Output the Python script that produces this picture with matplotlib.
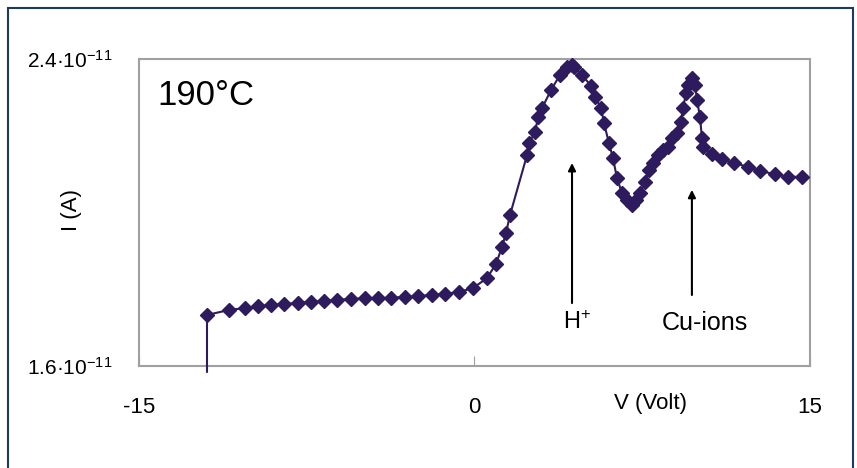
import numpy as np
import matplotlib.pyplot as plt
from matplotlib.patches import Rectangle

plt.rcParams['font.family'] = ['Liberation Sans', 'DejaVu Sans']
plt.rcParams['mathtext.fontset'] = 'custom'
plt.rcParams['mathtext.rm'] = 'Liberation Sans'
plt.rcParams['mathtext.it'] = 'Liberation Sans'

# V (Volt) and I (units of 1e-11 A)
volt = [-11.96, -11.96, -10.98, -10.26, -9.68, -9.10, -8.52, -7.89, -7.31, -6.73,
        -6.15, -5.52, -4.90, -4.31, -3.73, -3.11, -2.53, -1.90, -1.32, -0.69,
        -0.07, 0.56, 0.96, 1.23, 1.41, 1.59, 2.35, 2.44, 2.71, 2.84,
        3.02, 3.42, 3.82, 4.14, 4.36, 4.45, 4.81, 5.21, 5.39, 5.66,
        5.79, 6.01, 6.19, 6.37, 6.59, 6.82, 7.04, 7.22, 7.40, 7.62,
        7.80, 7.98, 8.20, 8.43, 8.65, 8.83, 9.05, 9.23, 9.32, 9.46,
        9.55, 9.72, 9.86, 9.95, 10.08, 10.17, 10.22, 10.62, 11.07, 11.60,
        12.23, 12.77, 13.44, 14.02, 14.64]
current = [1.585, 1.733, 1.746, 1.751, 1.756, 1.759, 1.762, 1.764, 1.767, 1.769,
           1.772, 1.775, 1.776, 1.777, 1.778, 1.780, 1.782, 1.785, 1.788, 1.793,
           1.803, 1.829, 1.866, 1.910, 1.947, 1.994, 2.150, 2.181, 2.210, 2.249,
           2.272, 2.319, 2.358, 2.379, 2.384, 2.379, 2.358, 2.330, 2.301, 2.272,
           2.233, 2.181, 2.142, 2.090, 2.051, 2.033, 2.020, 2.033, 2.051, 2.079,
           2.111, 2.129, 2.150, 2.163, 2.171, 2.194, 2.207, 2.236, 2.272, 2.311,
           2.332, 2.351, 2.332, 2.293, 2.249, 2.194, 2.171, 2.152, 2.139, 2.129,
           2.119, 2.108, 2.100, 2.093, 2.093]

x_ticks = [-15, 0, 15]
y_ticks = [1.6, 2.4]
y_labels = ['1.6·10$^{-11}$', '2.4·10$^{-11}$']

fig = plt.figure(figsize=(8.57, 4.68), dpi=100)
ax = fig.add_axes([139/857, 1 - 366/468, 671/857, 307/468])

navy = '#2d1b5e'
ax.plot(volt, current, color=navy, lw=1.5, marker='D', markersize=7,
        markevery=list(range(1, len(volt))), clip_on=False, zorder=3)

ax.set_xlim(-15, 15)
ax.set_ylim(1.6, 2.4)
ax.set_xticks(x_ticks)
ax.set_xticklabels([str(t) for t in x_ticks], fontsize=16)
ax.set_yticks(y_ticks)
ax.set_yticklabels(y_labels, fontsize=15)
ax.tick_params(axis='x', direction='in', length=7, color='#a0a0a0', pad=22)
ax.tick_params(axis='y', length=0, pad=19)
for s in ax.spines.values():
    s.set_color('#a0a0a0')
    s.set_linewidth(1.5)

fig.text(650/857, 1 - 403/468, 'V (Volt)', fontsize=16, ha='center', va='center')
fig.text(72/857, 1 - 210/468, 'I (A)', fontsize=16, ha='center', va='center',
         rotation=90)

ax.text(0.028, 0.88, '190°C', transform=ax.transAxes, fontsize=25,
        ha='left', va='center')

# arrows marking the two peaks
ax.annotate('', xy=(4.36, 2.129), xytext=(4.36, 1.764),
            arrowprops=dict(arrowstyle='-|>', color='black', lw=1.5,
                            mutation_scale=11, shrinkA=0, shrinkB=0))
ax.annotate('', xy=(9.72, 2.059), xytext=(9.72, 1.785),
            arrowprops=dict(arrowstyle='-|>', color='black', lw=1.5,
                            mutation_scale=11, shrinkA=0, shrinkB=0))
ax.text(4.6, 1.713, 'H$^{+}$', fontsize=17, ha='center', va='center')
ax.text(10.3, 1.713, 'Cu-ions', fontsize=18, ha='center', va='center')

fig.patches.append(Rectangle((8/857, -0.05), 845/857, 1.05 - 8/468,
                             transform=fig.transFigure, fill=False,
                             edgecolor='#1f3b5c', lw=1.5))

fig.savefig('out.png', dpi=100)
